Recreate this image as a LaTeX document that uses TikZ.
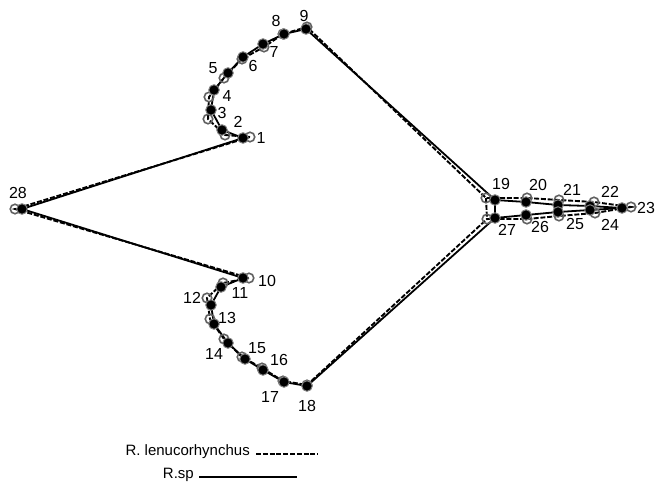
\documentclass[tikz,border=0pt]{standalone}
\usepackage{fontspec}
\setmainfont{Liberation Sans}
\begin{document}
\begin{tikzpicture}[x=1pt,y=-1pt,
  solidline/.style={line width=1.8pt, black, line join=round},
  dashline/.style={line width=1.9pt, black, dash pattern=on 5pt off 1.8pt},
  opendot/.style={circle, draw=black!62, line width=1.6pt, minimum size=9.5pt, inner sep=0pt},
  filleddot/.style={circle, draw=black!50, fill=black, line width=1pt, minimum size=10.5pt, inner sep=0pt},
  lbl/.style={font=\fontsize{16}{16}\selectfont, inner sep=0pt},
  legendtext/.style={font=\fontsize{15}{15}\selectfont, inner sep=0pt, anchor=east}]
\useasboundingbox (0,0) rectangle (655,484);

% landmarks of R.sp (solid wireframe)
\foreach \i/\x/\y in {1/243/138,2/222/130,3/211/110,4/214/90,5/228/73,6/243/57,7/263/44,
  8/284/34,9/306/29,10/243/278,11/221/287,12/211/305,13/214/324,14/228/343,15/245/359,
  16/263/370,17/284/382,18/307/386,19/495/200,20/526/202,21/558/205,22/590/206,23/622/208,
  24/590/210,25/558/212,26/526/215,27/495/218,28/22/209}
  \coordinate (s\i) at (\x,\y);

% landmarks of R. lenucorhynchus (dashed wireframe)
\foreach \i/\x/\y in {1/250/137,2/225/135,3/208/119,4/209/97,5/224/78,6/242/59,7/264/47,
  8/283/34,9/307/27,10/249/278,11/223/283,12/207/298,13/210/319,14/224/339,15/242/357,
  16/262/368,17/283/381,18/307/385,19/486/198,20/527/198,21/559/200,22/594/202,23/631/207,
  24/595/213,25/559/216,26/527/219,27/487/219,28/15/209}
  \coordinate (d\i) at (\x,\y);

% wireframes
\draw[dashline] (d1) \foreach \i in {2,3,4,5,6,7,8,9,19,20,21,22,23,24,25,26,27,18,17,16,15,14,13,12,11,10,28} { -- (d\i) } -- cycle;
\draw[dashline] (d19) -- (d27);
\draw[solidline] (s1) \foreach \i in {2,3,4,5,6,7,8,9,19,20,21,22,23,24,25,26,27,18,17,16,15,14,13,12,11,10,28} { -- (s\i) } -- cycle;
\draw[solidline] (s19) -- (s27);

% landmark markers
\foreach \i in {1,...,28} \node[opendot] (o\i) at (d\i) {};
\foreach \i in {1,...,28} \node[filleddot] (f\i) at (s\i) {};

% landmark numbers
\foreach \i/\x/\y in {1/261/138,2/238/122,3/222/113,4/227/96,5/213/68,6/253/66,7/274/52,
  8/276/21,9/304/16,10/267/281,11/240/293,12/192/298,13/227/318,14/214/354,15/257/348,
  16/279/360,17/270/397,18/307/406,19/501/184,20/538/185,21/572/190,22/610/192,23/646/208,
  24/610/225,25/575/224,26/540/227,27/507/230,28/18/193}
  \node[lbl] (n\i) at (\x,\y) {\i};

% legend
\node[legendtext] (leg1) at (250,452) {R. lenucorhynchus};
\coordinate (leg1a) at (256,454);
\coordinate (leg1b) at (318,454);
\draw[dashline] (leg1a) -- (leg1b);
\node[legendtext] (leg2) at (194,475) {R.sp};
\coordinate (leg2a) at (199,477);
\coordinate (leg2b) at (297,477);
\draw[solidline] (leg2a) -- (leg2b);
\end{tikzpicture}
\end{document}
